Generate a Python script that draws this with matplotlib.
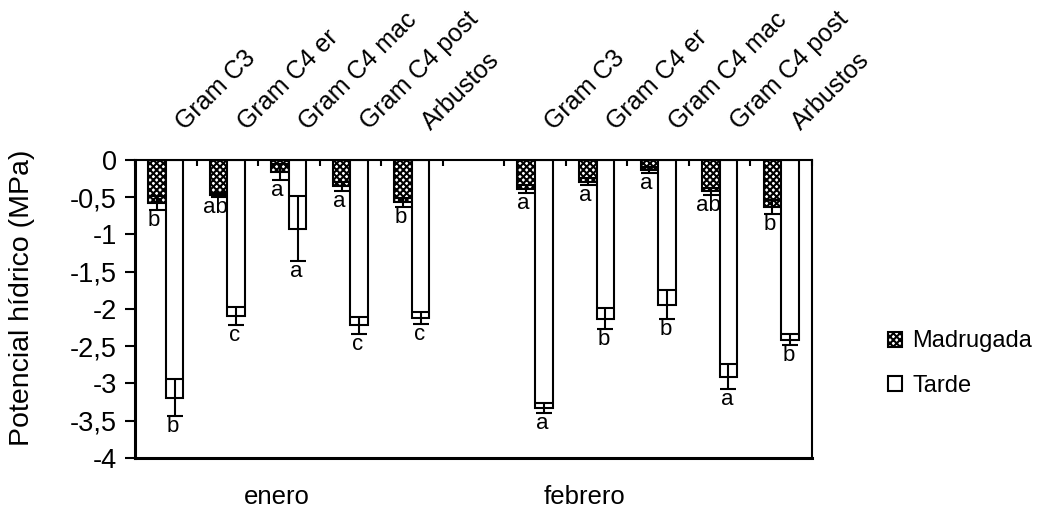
import numpy as np
import matplotlib
matplotlib.use("Agg")
import matplotlib.pyplot as plt
from matplotlib.patches import Patch
from matplotlib.ticker import FixedLocator

plt.rcParams['font.family'] = ['Liberation Sans', 'DejaVu Sans']
plt.rcParams['hatch.linewidth'] = 1.5

# data
categorias = ['Gram C3', 'Gram C4 er', 'Gram C4 mac', 'Gram C4 post', 'Arbustos']
meses = ['enero', 'febrero']

madrugada_enero = [-0.58, -0.47, -0.16, -0.35, -0.57]
madrugada_enero_err = [0.09, 0.03, 0.11, 0.06, 0.06]
tarde_enero = [-3.19, -2.09, -0.92, -2.22, -2.12]
tarde_enero_err = [0.25, 0.12, 0.43, 0.11, 0.08]

madrugada_febrero = [-0.39, -0.29, -0.14, -0.42, -0.63]
madrugada_febrero_err = [0.05, 0.05, 0.04, 0.05, 0.09]
tarde_febrero = [-3.33, -2.13, -1.94, -2.91, -2.41]
tarde_febrero_err = [0.07, 0.14, 0.20, 0.17, 0.07]

letras_madrugada = ['b', 'ab', 'a', 'a', 'b', 'a', 'a', 'a', 'ab', 'b']
letras_tarde = ['b', 'c', 'a', 'c', 'c', 'a', 'b', 'b', 'a', 'b']

yticks = [0, -0.5, -1, -1.5, -2, -2.5, -3, -3.5, -4]
ytick_labels = ['0', '-0,5', '-1', '-1,5', '-2', '-2,5', '-3', '-3,5', '-4']

# combine the two months, leaving one empty slot between them
madrugada = madrugada_enero + madrugada_febrero
madrugada_err = madrugada_enero_err + madrugada_febrero_err
tarde = tarde_enero + tarde_febrero
tarde_err = tarde_enero_err + tarde_febrero_err
labels = categorias + categorias
pos = np.array([0, 1, 2, 3, 4, 6, 7, 8, 9, 10]) + 0.5

fig = plt.figure(figsize=(10.43, 5.24), dpi=100)
ax = fig.add_axes([0.1294, 0.126, 0.6491, 0.5687])

w = 0.285
err_kw = dict(ecolor='black', elinewidth=1.5, capsize=6, capthick=1.5)
ax.bar(pos - w / 2, madrugada, w, yerr=madrugada_err, color='white',
       edgecolor='black', linewidth=1.5, hatch='xxxxx', error_kw=err_kw,
       zorder=2)
ax.bar(pos + w / 2, tarde, w, yerr=tarde_err, color='white',
       edgecolor='black', linewidth=1.5, error_kw=err_kw, zorder=2)

# significance letters below the error bars
for x, v, e, t in zip(pos - w / 2, madrugada, madrugada_err, letras_madrugada):
    ax.annotate(t, (x, v - e), xytext=(-2, 0), textcoords='offset points',
                ha='center', va='top', fontsize=16)
for x, v, e, t in zip(pos + w / 2, tarde, tarde_err, letras_tarde):
    ax.annotate(t, (x, v - e), xytext=(-1, 0), textcoords='offset points',
                ha='center', va='top', fontsize=16)

# category labels above the top axis
for x, t in zip(pos, labels):
    ax.annotate(t, (x, 0), xytext=(14, 21), textcoords='offset points',
                rotation=45, rotation_mode='anchor', ha='left',
                va='baseline', fontsize=18, annotation_clip=False)

ax.set_xlim(0, 11)
ax.set_ylim(-4, 0)
ax.set_yticks(yticks)
ax.set_yticklabels(ytick_labels, fontsize=19.5)
ax.tick_params(axis='y', direction='out', length=7, width=1.5, pad=6)

ax.set_xticks([])
ax.xaxis.set_minor_locator(FixedLocator(np.arange(0, 12)))
ax.xaxis.tick_top()
ax.tick_params(axis='x', which='minor', direction='in', length=4,
               width=1.5, top=True, bottom=False)

for s in ax.spines.values():
    s.set_linewidth(1.5)
ax.spines['left'].set_linewidth(2.2)
ax.spines['bottom'].set_linewidth(2.2)

ax.set_ylabel('Potencial hídrico (MPa)', fontsize=20.5)
ax.yaxis.set_label_coords(-0.147, 0.537)

# month labels
fig.text(277 / 1043, 27 / 524, meses[0], ha='center', va='center', fontsize=18.5)
fig.text(585 / 1043, 27 / 524, meses[1], ha='center', va='center', fontsize=18.5)

handles = [Patch(facecolor='white', edgecolor='black', hatch='xxxxx', linewidth=1.5),
           Patch(facecolor='white', edgecolor='black', linewidth=1.5)]
fig.legend(handles, ['Madrugada', 'Tarde'], loc='center left',
           bbox_to_anchor=(0.851, 0.306), frameon=False, fontsize=17,
           handlelength=0.6, handleheight=0.6, handletextpad=0.45,
           labelspacing=0.95, borderpad=0, borderaxespad=0)

fig.savefig('out.png', dpi=100)
